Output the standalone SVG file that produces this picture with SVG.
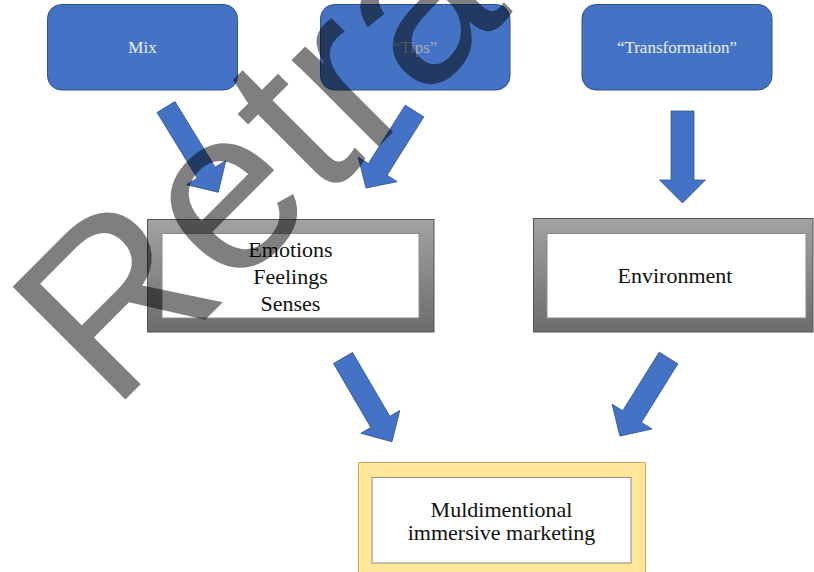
<svg xmlns="http://www.w3.org/2000/svg" width="814" height="572" viewBox="0 0 814 572">
<defs>
<linearGradient id="grayFrame" x1="0" y1="0" x2="0" y2="1">
<stop offset="0" stop-color="#a2a2a2"/>
<stop offset="1" stop-color="#6c6c6c"/>
</linearGradient>
<path id="arr92" d="M-11.5,0 H11.5 V69 H23 L0,92 L-23,69 H-11.5 Z"/>
</defs>
<style>
.blue{fill:#4472c4;stroke:#2f528f;stroke-width:1}
.lbl{font-size:17px;text-anchor:middle;fill:#eef0f6}
.big{font-size:22px;text-anchor:middle;fill:#111}
.outerg{fill:url(#grayFrame);stroke:#555;stroke-width:1}
.inner{fill:#fff;stroke:#8a8a8a;stroke-width:1}
.arrow{fill:#4472c4;stroke:#2f528f;stroke-width:0.75}
.wm{font-size:232px;fill:#000;fill-opacity:0.5}
</style>
<rect width="814" height="572" fill="#fff"/>
<g font-family="'Liberation Serif', 'DejaVu Serif', serif">
<g id="node-mix">
<rect class="blue" x="47.5" y="4.5" width="190" height="85.5" rx="14"/>
<text class="lbl" x="142.5" y="53">Mix</text>
</g>
<g id="node-tips">
<rect class="blue" x="320.5" y="4.5" width="189.5" height="85.5" rx="14"/>
<text class="lbl" x="415" y="53" fill="#a9acb3" style="fill:#a9acb3">“Tips”</text>
</g>
<g id="node-transformation">
<rect class="blue" x="582" y="4.5" width="190" height="85.5" rx="14"/>
<text class="lbl" x="677" y="53">“Transformation”</text>
</g>
<g id="node-emotions">
<rect class="outerg" x="147.5" y="219.5" width="286.5" height="112.5"/>
<rect class="inner" x="162" y="233.5" width="257" height="84.5"/>
<text class="big" x="290.5" y="257">Emotions</text>
<text class="big" x="290.5" y="284">Feelings</text>
<text class="big" x="290.5" y="311">Senses</text>
</g>
<g id="node-environment">
<rect class="outerg" x="533.5" y="218.5" width="279.5" height="113.5"/>
<rect class="inner" x="547" y="233.5" width="259" height="84.5"/>
<text class="big" x="675" y="283">Environment</text>
</g>
<g id="node-marketing">
<rect x="358.5" y="462.5" width="287" height="116" fill="#ffe699" stroke="#c9ad5a" stroke-width="1"/>
<rect class="inner" x="372" y="477.5" width="259" height="85.5"/>
<text class="big" x="501.5" y="517">Muldimentional</text>
<text class="big" x="501.5" y="540">immersive marketing</text>
</g>
</g>
<g id="connectors">
<path class="arrow" transform="translate(166,107) rotate(-31.5)" d="M-10.5,0 H10.5 V77 H23 L0,100 L-23,77 H-10.5 Z"/>
<path class="arrow" transform="translate(414.5,111) rotate(32.2)" d="M-11,0 H11 V69 H23 L0,91 L-23,69 H-11 Z"/>
<use class="arrow" href="#arr92" transform="translate(682.5,111)"/>
<path class="arrow" transform="translate(343,358) rotate(-30.3)" d="M-11,0 H11 V74 H22.5 L0,97 L-22.5,74 H-11 Z"/>
<path class="arrow" transform="translate(668.5,358) rotate(31.9)" d="M-11,0 H11 V69 H23.5 L0,92 L-23.5,69 H-11 Z"/>
</g>
<text class="wm" font-family="'Liberation Sans', Arial, sans-serif" transform="translate(112,413) rotate(-45)">Retracted</text>
</svg>
